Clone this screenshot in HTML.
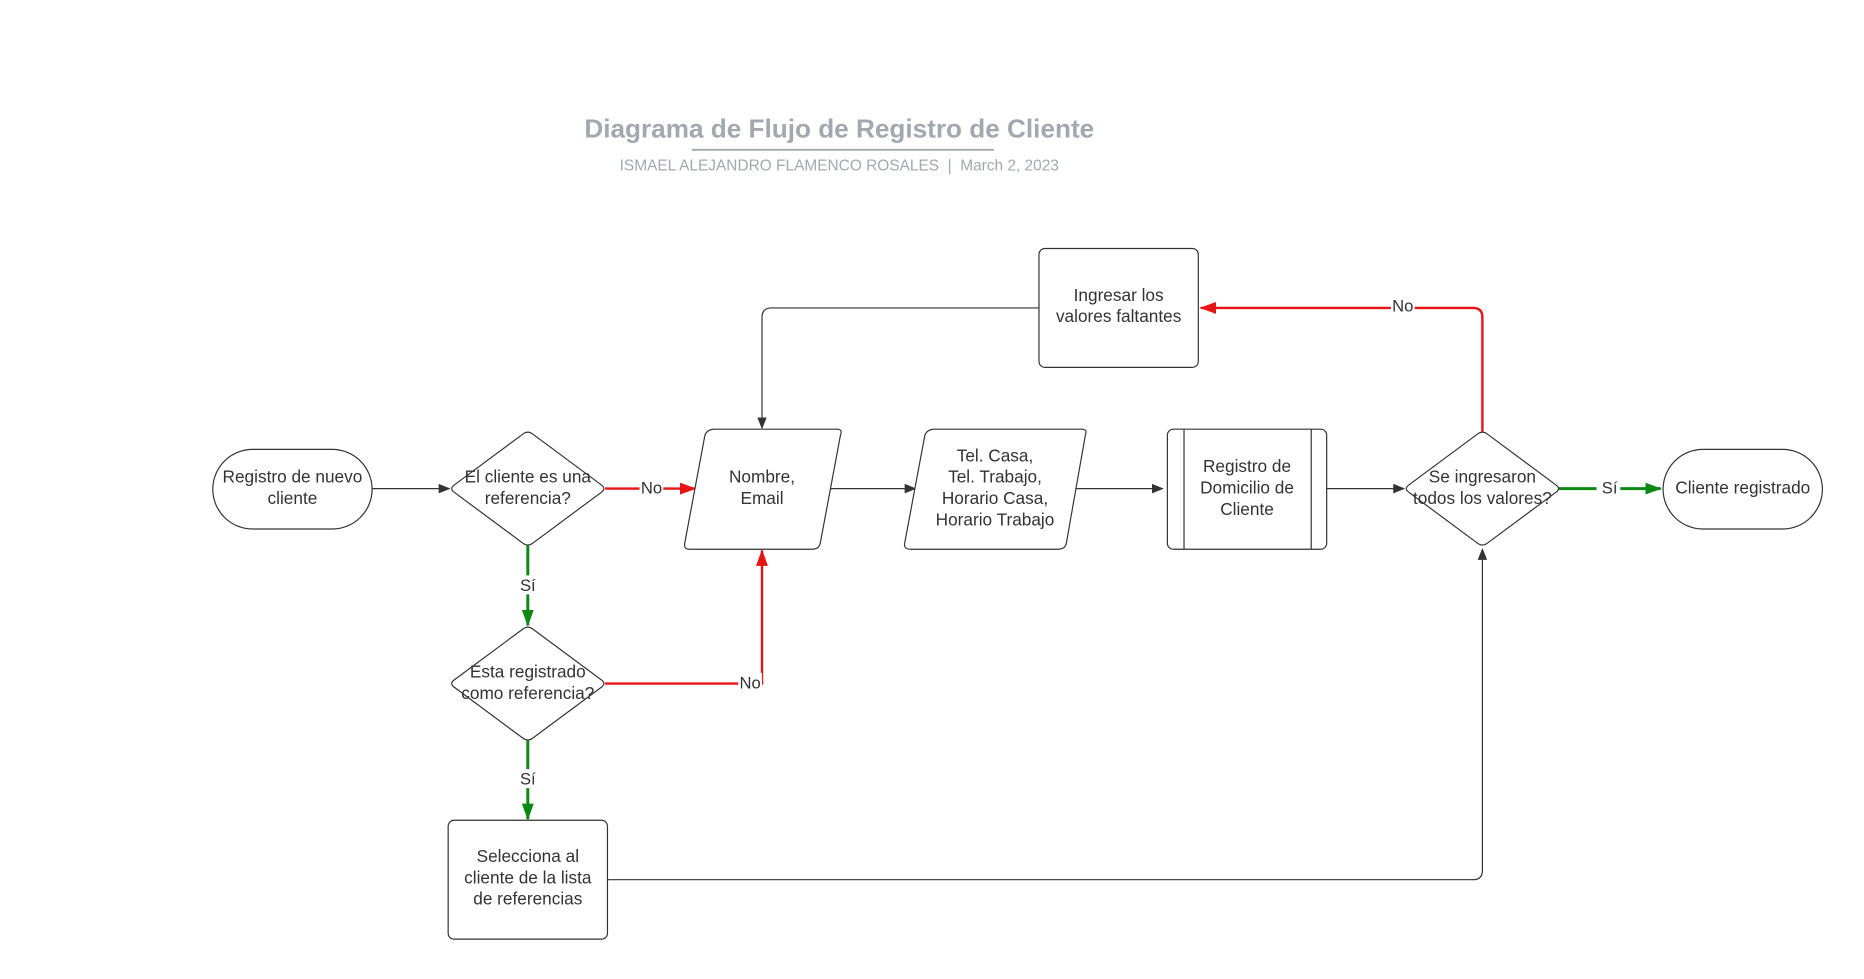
<!DOCTYPE html>
<html><head><meta charset="utf-8"><style>
html,body{margin:0;padding:0;background:#fff;width:1864px;height:979px;overflow:hidden}
svg{display:block}
text{font-family:"Liberation Sans",sans-serif;fill:#333;font-size:14.5px;text-anchor:middle}
.s{fill:#fff;stroke:#333;stroke-width:1}
.k{fill:none;stroke:#333;stroke-width:1}
.r{fill:none;stroke:#e81313;stroke-width:2}
.g{fill:none;stroke:#0a8a12;stroke-width:2.5}
.lb{font-size:14px}
</style></head><body>
<svg width="1864" height="979" viewBox="0 0 1568 823.5" xmlns="http://www.w3.org/2000/svg">
<defs>
<marker id="ak" markerWidth="10" markerHeight="8" refX="9" refY="4" orient="auto" markerUnits="userSpaceOnUse"><path d="M0,0 L10,4 L0,8z" fill="#333"/></marker>
<marker id="ar" markerWidth="14" markerHeight="10" refX="13" refY="5" orient="auto" markerUnits="userSpaceOnUse"><path d="M0,0 L14,5 L0,10z" fill="#e81313"/></marker>
<marker id="ag" markerWidth="14" markerHeight="10" refX="13" refY="5" orient="auto" markerUnits="userSpaceOnUse"><path d="M0,0 L14,5 L0,10z" fill="#0a8a12"/></marker>
</defs>
<!-- title -->
<text x="706" y="115.5" style="font-size:22px;font-weight:bold;fill:#a3a8b0">Diagrama de Flujo de Registro de Cliente</text>
<line x1="582" y1="126" x2="836" y2="126" stroke="#a3a8b0" stroke-width="1.5"/>
<text x="706" y="143.5" xml:space="preserve" style="font-size:13px;fill:#a3a8b0;white-space:pre">ISMAEL ALEJANDRO FLAMENCO ROSALES  |  March 2, 2023</text>

<!-- connectors -->
<line class="k" x1="313" y1="411" x2="378" y2="411" marker-end="url(#ak)"/>
<line class="r" x1="509" y1="411" x2="585" y2="411" marker-end="url(#ar)"/>
<line class="k" x1="695" y1="411" x2="770" y2="411" marker-end="url(#ak)"/>
<line class="k" x1="902" y1="411" x2="978" y2="411" marker-end="url(#ak)"/>
<line class="k" x1="1116" y1="411" x2="1181" y2="411" marker-end="url(#ak)"/>
<line class="g" x1="1311" y1="411" x2="1397" y2="411" marker-end="url(#ag)"/>
<path class="r" d="M1247,363 L1247,267 Q1247,259 1239,259 L1010,259" marker-end="url(#ar)"/>
<path class="k" d="M874,259 L649,259 Q641,259 641,267 L641,360" marker-end="url(#ak)"/>
<line class="g" x1="444" y1="459" x2="444" y2="526" marker-end="url(#ag)"/>
<path class="r" d="M509,575 L641,575 L641,463" marker-end="url(#ar)"/>
<line class="g" x1="444" y1="623" x2="444" y2="689" marker-end="url(#ag)"/>
<path class="k" d="M511,740 L1239,740 Q1247,740 1247,732 L1247,462" marker-end="url(#ak)"/>

<!-- labels on connectors -->
<rect x="538" y="402" width="20" height="16" fill="#fff"/><text class="lb" x="548" y="415">No</text>
<rect x="1343" y="402" width="20" height="16" fill="#fff"/><text class="lb" x="1354" y="415">Sí</text>
<rect x="1170" y="250" width="20" height="16" fill="#fff"/><text class="lb" x="1180" y="262">No</text>
<rect x="434" y="484" width="20" height="16" fill="#fff"/><text class="lb" x="444" y="497">Sí</text>
<rect x="621" y="566" width="20" height="16" fill="#fff"/><text class="lb" x="631" y="579">No</text>
<rect x="434" y="647" width="20" height="16" fill="#fff"/><text class="lb" x="444" y="660">Sí</text>

<!-- shapes -->
<rect class="s" x="179" y="378" width="134" height="67" rx="33.5"/>
<text x="246" y="406">Registro de nuevo</text><text x="246" y="424">cliente</text>

<path class="s" d="M440,365 Q444,362 448,365 L506,408 Q510,411 506,414 L448,457 Q444,460 440,457 L382,414 Q378,411 382,408z"/>
<text x="444" y="406">El cliente es una</text><text x="444" y="424">referencia?</text>

<path class="s" d="M601,361 L704,361 Q709,361 707,366 L690,457 Q689,462 683,462 L580,462 Q575,462 576,457 L593,366 Q595,361 601,361z"/>
<text x="641" y="406">Nombre,</text><text x="641" y="424">Email</text>

<path class="s" d="M786,361 L910,361 Q915,361 913,366 L897,457 Q896,462 890,462 L766,462 Q760,462 761,457 L778,366 Q780,361 786,361z"/>
<text x="837" y="388">Tel. Casa,</text><text x="837" y="406">Tel. Trabajo,</text><text x="837" y="424">Horario Casa,</text><text x="837" y="442">Horario Trabajo</text>

<rect class="s" x="982" y="361" width="134" height="101" rx="5"/>
<line class="k" x1="996" y1="361" x2="996" y2="462"/><line class="k" x1="1103" y1="361" x2="1103" y2="462"/>
<text x="1049" y="397">Registro de</text><text x="1049" y="415">Domicilio de</text><text x="1049" y="433">Cliente</text>

<path class="s" d="M1243,365 Q1247,362 1251,365 L1309,408 Q1313,411 1309,414 L1251,457 Q1247,460 1243,457 L1185,414 Q1181,411 1185,408z"/>
<text x="1247" y="406">Se ingresaron</text><text x="1247" y="424">todos los valores?</text>

<rect class="s" x="1399" y="378" width="134" height="67" rx="33.5"/>
<text x="1466" y="415">Cliente registrado</text>

<rect class="s" x="874" y="209" width="134" height="100" rx="5"/>
<text x="941" y="253">Ingresar los</text><text x="941" y="271">valores faltantes</text>

<path class="s" d="M440,529 Q444,526 448,529 L506,572 Q510,575 506,578 L448,621 Q444,624 440,621 L382,578 Q378,575 382,572z"/>
<text x="444" y="570">Esta registrado</text><text x="444" y="588">como referencia?</text>

<rect class="s" x="377" y="690" width="134" height="100" rx="5"/>
<text x="444" y="725">Selecciona al</text><text x="444" y="743">cliente de la lista</text><text x="444" y="761">de referencias</text>
</svg>
</body></html>
